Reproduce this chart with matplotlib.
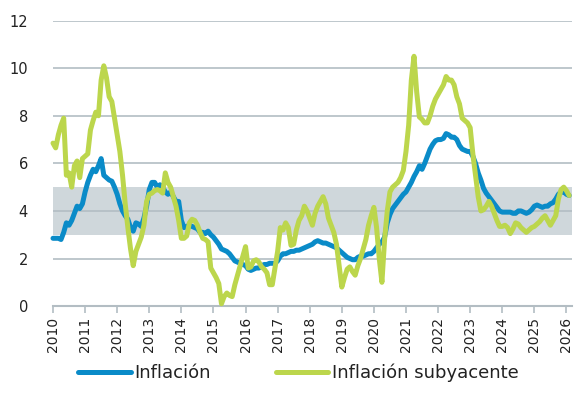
import numpy as np
import matplotlib
matplotlib.use("Agg")
import matplotlib.pyplot as plt

# monthly values, Jan 2010 .. Feb 2026
inflacion = [
    2.85, 2.85, 2.85, 2.8, 3.1, 3.5, 3.4, 3.6, 3.9, 4.2, 4.1, 4.3,        # 2010
    4.8, 5.2, 5.5, 5.75, 5.65, 5.9, 6.2, 5.5, 5.4, 5.3, 5.25, 5.0,       # 2011
    4.7, 4.3, 4.0, 3.8, 3.65, 3.3, 3.15, 3.5, 3.45, 3.35, 3.7, 4.2,      # 2012
    4.9, 5.2, 5.2, 5.0, 5.1, 5.0, 4.8, 4.7, 4.8, 4.6, 4.4, 4.4,          # 2013
    3.6, 3.3, 3.35, 3.4, 3.35, 3.3, 3.25, 3.1, 3.1, 3.05, 3.15, 3.0,     # 2014
    2.9, 2.75, 2.6, 2.4, 2.35, 2.3, 2.2, 2.05, 1.9, 1.85, 1.8, 1.75,     # 2015
    1.7, 1.55, 1.5, 1.55, 1.6, 1.6, 1.7, 1.75, 1.75, 1.8, 1.8, 1.8,      # 2016
    1.9, 2.1, 2.2, 2.2, 2.25, 2.3, 2.3, 2.35, 2.35, 2.4, 2.45, 2.5,      # 2017
    2.55, 2.6, 2.7, 2.75, 2.7, 2.65, 2.65, 2.6, 2.55, 2.5, 2.45, 2.35,   # 2018
    2.25, 2.15, 2.05, 2.0, 1.95, 1.95, 2.05, 2.1, 2.1, 2.15, 2.2, 2.2,   # 2019
    2.3, 2.45, 2.6, 2.7, 2.9, 3.5, 3.85, 4.1, 4.25, 4.4, 4.55, 4.7,      # 2020
    4.8, 5.0, 5.2, 5.45, 5.65, 5.9, 5.75, 6.0, 6.3, 6.6, 6.8, 6.95,      # 2021
    7.0, 7.0, 7.05, 7.25, 7.2, 7.1, 7.1, 7.0, 6.75, 6.6, 6.55, 6.5,      # 2022
    6.5, 6.3, 6.0, 5.6, 5.3, 4.95, 4.75, 4.6, 4.45, 4.3, 4.15, 4.0,      # 2023
    3.95, 3.95, 3.95, 3.95, 3.9, 3.9, 4.0, 4.0, 3.95, 3.9, 3.95, 4.05,   # 2024
    4.2, 4.25, 4.2, 4.15, 4.2, 4.2, 4.3, 4.35, 4.5, 4.7, 4.8, 4.8,       # 2025
    4.7, 4.65,                                                           # 2026
]

subyacente = [
    6.85, 6.65, 7.2, 7.6, 7.9, 5.5, 5.6, 5.0, 5.9, 6.1, 5.4, 6.2,        # 2010
    6.3, 6.4, 7.4, 7.8, 8.15, 8.0, 9.5, 10.1, 9.6, 8.8, 8.6, 7.9,        # 2011
    7.2, 6.5, 5.5, 4.3, 3.3, 2.4, 1.7, 2.3, 2.6, 2.9, 3.4, 4.4,          # 2012
    4.7, 4.75, 4.85, 4.9, 4.85, 4.75, 5.6, 5.2, 5.0, 4.6, 4.2, 3.6,      # 2013
    2.85, 2.85, 2.95, 3.5, 3.65, 3.6, 3.4, 3.1, 2.85, 2.8, 2.7, 1.6,     # 2014
    1.4, 1.2, 0.95, 0.1, 0.4, 0.55, 0.45, 0.4, 0.9, 1.3, 1.7, 2.1,       # 2015
    2.5, 1.6, 1.65, 1.9, 1.95, 1.85, 1.65, 1.55, 1.4, 0.9, 0.9, 1.6,     # 2016
    2.3, 3.3, 3.2, 3.5, 3.3, 2.55, 2.6, 3.2, 3.6, 3.8, 4.2, 4.0,         # 2017
    3.7, 3.4, 3.9, 4.2, 4.4, 4.6, 4.3, 3.7, 3.4, 3.1, 2.6, 1.7,          # 2018
    0.8, 1.2, 1.55, 1.65, 1.45, 1.3, 1.7, 2.0, 2.4, 2.8, 3.4, 3.8,       # 2019
    4.15, 3.3, 2.0, 1.0, 2.8, 4.0, 4.8, 5.0, 5.1, 5.2, 5.4, 5.7,         # 2020
    6.5, 7.6, 9.5, 10.5, 9.0, 7.95, 7.85, 7.7, 7.7, 8.0, 8.4, 8.7,       # 2021
    8.9, 9.1, 9.3, 9.65, 9.5, 9.5, 9.3, 8.8, 8.5, 7.9, 7.8, 7.7,         # 2022
    7.5, 6.4, 5.5, 4.6, 4.0, 4.05, 4.2, 4.4, 4.2, 3.9, 3.6, 3.35,        # 2023
    3.35, 3.4, 3.3, 3.05, 3.25, 3.5, 3.45, 3.3, 3.2, 3.1, 3.2, 3.3,      # 2024
    3.35, 3.45, 3.55, 3.7, 3.8, 3.6, 3.4, 3.6, 3.8, 4.5, 4.9, 5.0,       # 2025
    4.85, 4.65,                                                          # 2026
]

year_ticks = list(range(2010, 2027))
y_ticks = [0, 2, 4, 6, 8, 10, 12]
band_low, band_high = 3, 5

blue = "#0a8bc8"
green = "#bcd64c"
grid_col = "#b3bdc3"
text_col = "#222222"

t = 2010 + np.arange(len(inflacion)) / 12

fig = plt.figure(figsize=(5.85, 4.12), dpi=100)
ax = fig.add_axes([0.0906, 0.257, 0.887, 0.693])

ax.axhspan(band_low, band_high, color="#cfd7db", zorder=0, lw=0)
for yv in y_ticks[1:]:
    ax.axhline(yv, color=grid_col, lw=1.2, zorder=1)

ax.plot(t, inflacion, color=blue, lw=3.6, label="Inflación", zorder=3,
        solid_capstyle="round", clip_on=False)
ax.plot(t, subyacente, color=green, lw=3.6, label="Inflación subyacente",
        zorder=4, solid_capstyle="round", clip_on=False)

ax.set_xlim(2010, 2026.17)
ax.set_ylim(0, 12)
ax.set_xticks(year_ticks)
ax.set_xticklabels([str(y) for y in year_ticks], rotation=90, fontsize=10,
                   color=text_col)
ax.set_yticks(y_ticks)
ax.set_yticklabels([str(y) for y in y_ticks], fontsize=10.5, color=text_col)
ax.tick_params(axis="y", length=0, pad=18)
ax.tick_params(axis="x", length=5, width=1.2, color=grid_col, pad=3)

for s in ["top", "right", "left"]:
    ax.spines[s].set_visible(False)
ax.spines["bottom"].set_color(grid_col)
ax.spines["bottom"].set_linewidth(1.5)

fig.legend(loc="center", bbox_to_anchor=(0.51, 0.095), ncol=2, frameon=False,
           fontsize=13, handlelength=2.9, handletextpad=0.2, columnspacing=3.6,
           labelcolor=text_col)

fig.savefig("out.png", dpi=100)
